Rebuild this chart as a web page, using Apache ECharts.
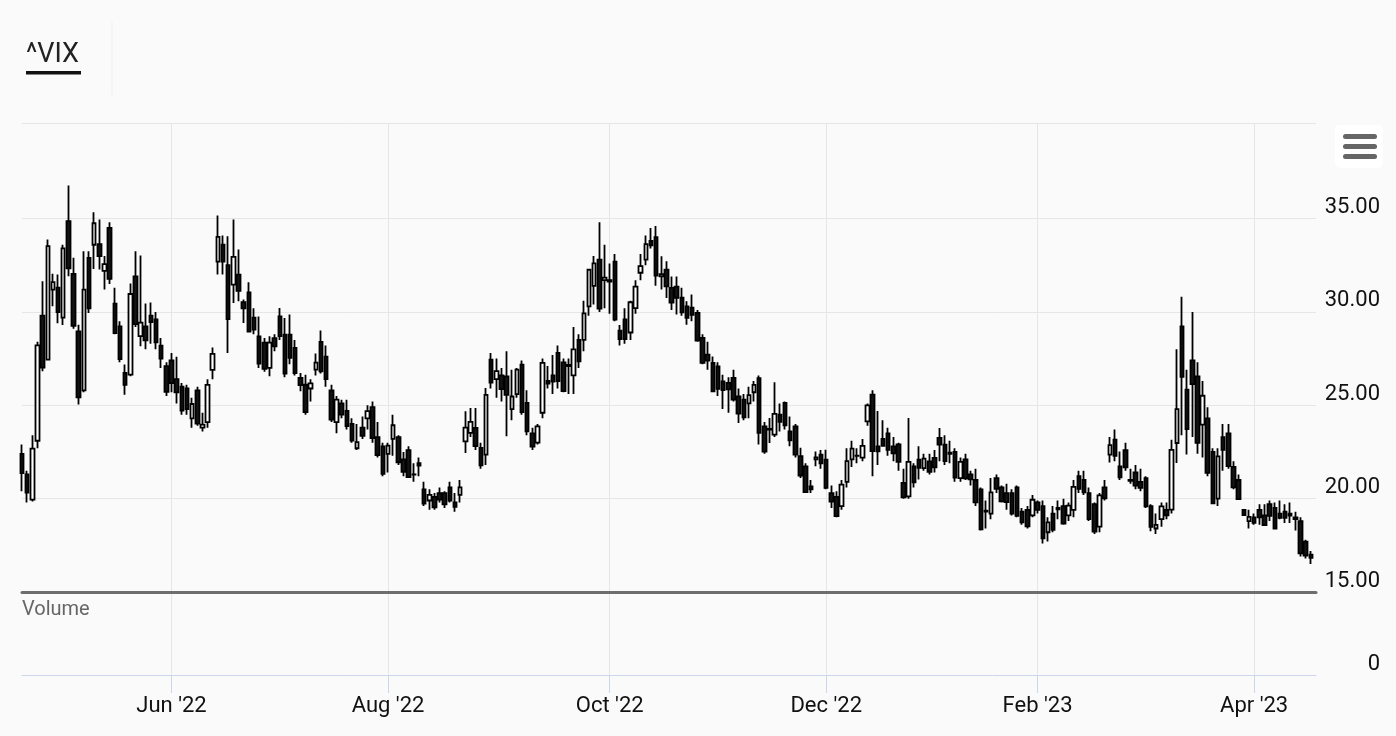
<!DOCTYPE html>
<html><head><meta charset="utf-8">
<script src="https://cdn.jsdelivr.net/npm/echarts@6/dist/echarts.min.js"></script>
<style>html,body{margin:0;padding:0;background:#fafafa}#c{width:1396px;height:736px}</style>
</head><body><div id="c"></div>
<script>
// trading days shown (last category is the empty right edge of the axis)
const dates = [
'2022-04-19','2022-04-20','2022-04-21','2022-04-22','2022-04-25','2022-04-26','2022-04-27','2022-04-28','2022-04-29',
'2022-05-02','2022-05-03','2022-05-04','2022-05-05','2022-05-06','2022-05-09','2022-05-10','2022-05-11','2022-05-12','2022-05-13','2022-05-16','2022-05-17','2022-05-18','2022-05-19','2022-05-20','2022-05-23','2022-05-24','2022-05-25','2022-05-26','2022-05-27','2022-05-31',
'2022-06-01','2022-06-02','2022-06-03','2022-06-06','2022-06-07','2022-06-08','2022-06-09','2022-06-10','2022-06-13','2022-06-14','2022-06-15','2022-06-16','2022-06-17','2022-06-21','2022-06-22','2022-06-23','2022-06-24','2022-06-27','2022-06-28','2022-06-29','2022-06-30',
'2022-07-01','2022-07-05','2022-07-06','2022-07-07','2022-07-08','2022-07-11','2022-07-12','2022-07-13','2022-07-14','2022-07-15','2022-07-18','2022-07-19','2022-07-20','2022-07-21','2022-07-22','2022-07-25','2022-07-26','2022-07-27','2022-07-28','2022-07-29',
'2022-08-01','2022-08-02','2022-08-03','2022-08-04','2022-08-05','2022-08-08','2022-08-09','2022-08-10','2022-08-11','2022-08-12','2022-08-15','2022-08-16','2022-08-17','2022-08-18','2022-08-19','2022-08-22','2022-08-23','2022-08-24','2022-08-25','2022-08-26','2022-08-29','2022-08-30','2022-08-31',
'2022-09-01','2022-09-02','2022-09-06','2022-09-07','2022-09-08','2022-09-09','2022-09-12','2022-09-13','2022-09-14','2022-09-15','2022-09-16','2022-09-19','2022-09-20','2022-09-21','2022-09-22','2022-09-23','2022-09-26','2022-09-27','2022-09-28','2022-09-29','2022-09-30',
'2022-10-03','2022-10-04','2022-10-05','2022-10-06','2022-10-07','2022-10-10','2022-10-11','2022-10-12','2022-10-13','2022-10-14','2022-10-17','2022-10-18','2022-10-19','2022-10-20','2022-10-21','2022-10-24','2022-10-25','2022-10-26','2022-10-27','2022-10-28','2022-10-31',
'2022-11-01','2022-11-02','2022-11-03','2022-11-04','2022-11-07','2022-11-08','2022-11-09','2022-11-10','2022-11-11','2022-11-14','2022-11-15','2022-11-16','2022-11-17','2022-11-18','2022-11-21','2022-11-22','2022-11-23','2022-11-25','2022-11-28','2022-11-29','2022-11-30',
'2022-12-01','2022-12-02','2022-12-05','2022-12-06','2022-12-07','2022-12-08','2022-12-09','2022-12-12','2022-12-13','2022-12-14','2022-12-15','2022-12-16','2022-12-19','2022-12-20','2022-12-21','2022-12-22','2022-12-23','2022-12-27','2022-12-28','2022-12-29','2022-12-30',
'2023-01-03','2023-01-04','2023-01-05','2023-01-06','2023-01-09','2023-01-10','2023-01-11','2023-01-12','2023-01-13','2023-01-17','2023-01-18','2023-01-19','2023-01-20','2023-01-23','2023-01-24','2023-01-25','2023-01-26','2023-01-27','2023-01-30','2023-01-31',
'2023-02-01','2023-02-02','2023-02-03','2023-02-06','2023-02-07','2023-02-08','2023-02-09','2023-02-10','2023-02-13','2023-02-14','2023-02-15','2023-02-16','2023-02-17','2023-02-21','2023-02-22','2023-02-23','2023-02-24','2023-02-27','2023-02-28',
'2023-03-01','2023-03-02','2023-03-03','2023-03-06','2023-03-07','2023-03-08','2023-03-09','2023-03-10','2023-03-13','2023-03-14','2023-03-15','2023-03-16','2023-03-17','2023-03-20','2023-03-21','2023-03-22','2023-03-23','2023-03-24','2023-03-27','2023-03-28','2023-03-29','2023-03-30','2023-03-31',
'2023-04-03','2023-04-04','2023-04-05','2023-04-06','2023-04-10','2023-04-11','2023-04-12','2023-04-13','2023-04-14','2023-04-17','2023-04-18','2023-04-19'
];

// [open, high, low, close] per trading day
const ohlc = [
[22.40,22.90,20.40,21.37],[21.30,21.50,19.80,20.32],[19.95,23.40,19.85,22.68],[23.10,28.40,22.70,28.21],[29.80,31.64,26.82,27.02],[27.45,33.88,27.40,33.52],[31.20,32.05,30.30,31.60],[31.30,32.00,29.40,29.99],[29.70,33.60,29.30,33.40],
[34.86,36.77,31.91,32.34],[32.04,32.90,29.10,29.25],[28.96,29.32,25.04,25.42],[25.80,33.25,25.70,31.20],[32.89,33.25,29.95,30.19],[33.60,35.34,32.30,34.75],[33.63,34.95,32.27,32.99],[32.20,33.00,31.20,32.56],[34.50,34.80,31.50,31.77],[30.45,31.29,28.80,28.87],[29.23,29.50,27.30,27.47],[26.73,27.18,25.57,26.10],[26.64,31.52,26.55,30.96],[31.91,33.25,29.20,29.35],[28.70,33.02,28.16,29.43],[29.23,30.45,28.00,28.48],[29.80,30.50,28.30,29.45],[29.60,30.00,28.00,28.37],[28.20,28.60,27.00,27.50],[27.10,27.30,25.50,25.72],[27.40,27.80,25.70,26.19],
[26.40,27.60,25.10,25.69],[26.00,26.20,24.50,24.72],[25.90,26.10,24.50,24.79],[24.30,25.40,23.80,25.07],[25.80,26.00,23.90,24.02],[23.80,24.60,23.60,23.96],[24.10,26.40,23.80,26.09],[26.90,28.10,26.40,27.75],[32.70,35.16,32.00,34.02],[33.60,34.10,32.00,32.69],[32.50,34.05,27.80,29.62],[31.46,34.95,30.48,32.95],[32.00,33.34,30.57,31.13],[30.52,30.66,29.41,30.19],[31.05,31.59,28.90,28.95],[29.70,30.20,28.80,29.05],[28.69,29.76,27.00,27.23],[28.36,28.60,26.80,26.95],[27.00,28.70,26.55,28.36],[28.60,28.80,27.90,28.16],[29.76,30.21,28.50,28.71],
[28.78,29.68,26.50,26.70],[28.78,29.86,27.20,27.54],[28.07,28.50,26.60,26.73],[26.47,26.73,25.75,26.08],[26.10,26.64,24.50,24.64],[25.90,26.40,25.20,26.17],[26.91,27.77,26.60,27.29],[28.40,29.00,26.70,26.82],[27.60,28.20,26.00,26.40],[25.80,26.10,24.10,24.23],[24.10,25.50,23.50,25.30],[25.10,25.30,24.30,24.50],[24.70,25.30,23.70,23.88],[24.00,24.30,23.00,23.11],[22.70,24.00,22.60,23.03],[23.80,24.40,23.20,23.36],[24.30,25.00,23.70,24.69],[24.90,25.20,23.00,23.24],[23.30,24.10,22.20,22.33],[22.80,23.00,21.20,21.33],
[22.40,23.00,21.40,22.84],[23.20,24.50,22.30,23.93],[23.30,23.40,21.80,21.95],[22.10,22.50,21.20,21.44],[22.60,22.80,21.10,21.15],[21.30,21.90,20.90,21.29],[21.90,22.20,21.20,21.77],[20.50,20.90,19.60,19.74],[19.90,20.50,19.40,20.20],[20.10,20.30,19.40,19.53],[20.30,20.60,19.80,19.95],[20.30,20.40,19.50,19.69],[20.60,20.90,19.80,19.90],[19.80,20.30,19.30,19.56],[20.20,21.00,19.80,20.60],[23.07,24.68,22.45,23.80],[23.52,24.86,23.30,24.11],[23.79,24.86,22.60,22.82],[22.72,23.00,21.60,21.78],[22.36,25.93,21.80,25.56],[27.45,27.80,25.90,26.21],[26.40,27.50,25.40,26.83],[26.60,27.00,25.20,25.87],
[26.55,27.89,23.34,25.56],[24.80,26.90,24.20,25.47],[25.60,27.00,25.40,26.91],[27.18,27.40,24.50,24.64],[25.13,25.80,23.40,23.61],[23.50,23.80,22.60,22.79],[23.00,24.00,22.90,23.87],[24.60,27.50,24.30,27.27],[26.30,27.10,25.90,26.16],[26.60,27.70,25.60,26.27],[27.80,28.20,25.90,26.30],[27.30,27.50,25.70,25.76],[27.10,27.50,25.60,27.16],[26.60,29.20,25.60,27.99],[28.50,28.80,27.00,27.35],[28.50,30.60,27.90,29.92],[30.30,32.30,29.80,32.26],[31.40,33.00,30.40,32.60],[32.80,34.80,30.00,30.18],[31.70,33.60,30.20,31.84],[31.70,32.60,29.90,31.62],
[32.70,33.10,29.50,29.59],[29.00,29.30,28.20,28.55],[29.60,30.20,28.30,28.55],[28.90,30.60,28.50,30.52],[30.20,31.70,29.90,31.36],[32.10,33.10,31.70,32.45],[32.80,34.10,32.50,33.63],[33.80,34.50,33.40,33.57],[34.00,34.60,31.40,31.94],[31.90,32.98,31.20,32.02],[32.27,32.71,30.75,31.37],[31.29,31.90,30.10,30.50],[31.36,31.90,29.86,30.76],[30.76,31.30,29.80,29.98],[30.30,30.57,29.32,29.69],[30.23,30.93,29.50,29.85],[29.95,30.10,28.40,28.46],[28.61,28.80,27.20,27.28],[27.71,28.40,26.90,27.39],[27.27,27.62,25.70,25.75],[27.09,27.30,25.50,25.88],
[26.28,26.64,24.80,25.81],[26.20,26.50,24.60,25.86],[26.47,26.91,25.21,25.30],[25.48,25.90,24.05,24.55],[25.30,25.60,24.20,24.35],[25.10,26.00,24.30,25.54],[25.70,26.30,25.20,26.09],[26.46,26.60,22.90,23.53],[23.87,24.10,22.40,22.52],[23.70,24.32,22.98,23.73],[23.43,26.23,23.30,24.54],[24.50,25.10,23.60,24.11],[25.13,25.21,23.70,23.93],[23.60,24.40,22.80,23.12],[23.87,24.00,22.20,22.36],[22.27,22.72,21.10,21.24],[21.73,21.90,20.30,20.35],[20.66,21.00,20.30,20.50],[22.10,22.53,21.73,22.21],[22.36,22.60,21.60,21.89],[22.09,22.62,20.50,20.58],
[20.30,20.70,19.50,19.84],[20.10,20.40,19.00,19.06],[19.60,21.00,19.40,20.75],[20.90,22.70,20.60,22.01],[22.10,23.10,21.70,22.68],[22.30,22.70,21.90,22.29],[22.20,23.20,22.00,22.83],[24.14,25.10,23.90,25.00],[25.57,25.80,21.20,22.55],[22.80,24.70,21.80,22.54],[23.20,24.20,22.80,22.83],[23.50,23.80,22.30,22.62],[22.80,23.30,22.00,22.42],[22.90,23.00,21.50,21.97],[20.84,21.60,20.00,20.07],[20.12,24.32,20.00,21.97],[21.73,21.90,20.60,20.87],[22.09,22.80,21.02,21.65],[21.64,22.40,21.50,22.14],[22.00,22.40,21.30,21.44],[22.18,22.60,21.40,21.67],
[23.25,23.79,22.00,22.90],[22.89,23.40,21.80,22.01],[22.40,23.10,21.90,22.46],[22.50,22.70,20.90,21.13],[21.10,22.20,20.90,21.97],[22.10,22.40,21.00,21.09],[21.30,21.50,20.70,21.03],[21.00,21.60,19.60,19.80],[20.50,20.60,18.30,18.35],[19.30,19.90,18.40,19.36],[19.20,21.10,18.90,20.34],[21.10,21.30,20.30,20.52],[20.60,20.70,19.80,19.85],[20.30,20.80,19.40,19.81],[20.30,20.50,19.10,19.20],[20.60,20.70,19.00,19.08],[19.30,19.50,18.60,18.73],[19.40,19.60,18.40,18.51],[19.10,20.20,19.00,19.94],[19.80,19.90,19.20,19.40],
[19.60,19.90,17.60,17.87],[18.20,19.00,17.70,18.73],[19.20,19.60,18.20,18.33],[19.50,19.90,18.90,19.43],[19.60,20.00,18.60,18.66],[19.10,19.80,18.80,19.63],[19.40,21.00,19.00,20.63],[21.20,21.50,20.30,20.53],[21.00,21.50,20.20,20.34],[20.30,20.60,18.80,18.91],[19.70,19.80,18.10,18.23],[18.50,20.30,18.20,20.17],[20.60,21.00,19.90,20.02],[22.36,23.30,21.93,22.87],[23.16,23.70,22.00,22.29],[21.73,22.53,21.00,21.14],[22.60,23.00,21.50,21.67],[21.00,21.60,20.80,20.95],[21.40,21.80,20.50,20.70],
[20.90,21.60,20.40,20.58],[21.10,21.20,19.50,19.59],[19.60,19.70,18.25,18.49],[18.40,19.20,18.10,18.60],[18.90,19.80,18.50,19.59],[19.40,19.80,18.90,19.11],[19.41,23.16,19.20,22.61],[22.98,28.00,21.91,24.80],[29.23,30.81,23.40,26.52],[25.84,26.90,22.36,23.73],[27.40,30.00,23.30,26.14],[26.55,27.30,22.40,22.99],[23.96,26.30,22.20,25.51],[24.30,24.90,21.20,21.38],[22.50,22.70,19.70,19.75],[20.00,22.70,19.60,22.26],[23.30,24.00,21.50,22.61],[23.50,24.00,21.60,21.74],[21.70,22.00,20.50,20.60],[21.00,21.30,20.00,19.97],[19.40,19.45,19.10,19.12],[18.80,19.40,18.40,19.02],[19.00,19.20,18.60,18.70],
[19.40,19.70,18.60,19.00],[19.10,19.70,18.60,18.58],[19.70,19.90,18.80,19.08],[19.50,19.80,18.40,18.40],[19.20,19.90,18.90,18.97],[19.30,19.70,18.70,18.97],[19.20,19.80,18.70,19.09],[19.00,19.30,18.30,18.91],[18.80,19.00,16.90,17.07],[17.70,17.80,16.80,16.95],[17.00,17.20,16.50,16.83]
];

const priceTicks = [15, 20, 25, 30, 35];
const xTickDates = ['2022-05-31','2022-08-01','2022-09-30','2022-11-30','2023-01-31','2023-03-31'];
const xTickLabels = ["Jun '22","Aug '22","Oct '22","Dec '22","Feb '23","Apr '23"];
const volumeTicks = [0];

const chart = echarts.init(document.getElementById('c'), null, {renderer: 'canvas'});
const candleData = dates.map((d, i) => {
  const r = ohlc[i];
  return r ? [r[0], r[3], r[2], r[1]] : '-';
});
const tickIdx = new Set(xTickDates.map(d => dates.indexOf(d)));
const labelOf = {};
xTickDates.forEach((d, k) => { labelOf[d] = xTickLabels[k]; });
const showTick = (i) => tickIdx.has(i);
const FONT = 'Roboto, "Helvetica Neue", Arial, sans-serif';

const option = {
  animation: false,
  backgroundColor: '#fafafa',
  grid: [
    {left: 22, width: 1294, top: 123, height: 469},
    {left: 22, width: 1294, top: 592, height: 83}
  ],
  xAxis: [
    {
      type: 'category', gridIndex: 0, data: dates, boundaryGap: false,
      axisLine: {show: true, onZero: false, lineStyle: {color: '#6e6e6e', width: 3}},
      axisTick: {show: false}, axisLabel: {show: false},
      splitLine: {show: true, interval: showTick, lineStyle: {color: '#e6e6e6', width: 1}}
    },
    {
      type: 'category', gridIndex: 1, data: dates, boundaryGap: false,
      axisLine: {show: true, onZero: false, lineStyle: {color: '#ccd6eb', width: 1}},
      axisTick: {show: true, interval: showTick, length: 18, lineStyle: {color: '#ccd6eb', width: 1}},
      axisLabel: {show: true, interval: showTick, formatter: v => labelOf[v] || '', fontSize: 22, color: '#111', fontFamily: FONT, margin: 20},
      splitLine: {show: true, interval: showTick, lineStyle: {color: '#e6e6e6', width: 1}}
    }
  ],
  yAxis: [
    {
      type: 'value', gridIndex: 0, position: 'right', scale: true,
      min: 15, max: 40.12, interval: 5,
      axisLine: {show: false}, axisTick: {show: false},
      axisLabel: {
        show: true, align: 'right', verticalAlign: 'bottom', margin: 64,
        fontSize: 22, color: '#111', fontFamily: FONT,
        formatter: v => priceTicks.indexOf(v) >= 0 ? v.toFixed(2) : ''
      },
      splitLine: {show: true, lineStyle: {color: ['#e6e6e6','#e6e6e6','#e6e6e6','#e6e6e6','#e6e6e6','rgba(0,0,0,0)','#e6e6e6'], width: 1}}
    },
    {
      type: 'value', gridIndex: 1, position: 'right', min: 0, max: 1, interval: 1,
      axisLine: {show: false}, axisTick: {show: false}, splitLine: {show: false},
      axisLabel: {
        show: true, align: 'right', verticalAlign: 'bottom', margin: 64,
        fontSize: 22, color: '#111', fontFamily: FONT,
        formatter: v => volumeTicks.indexOf(v) >= 0 ? String(v) : ''
      }
    }
  ],
  series: [{
    type: 'candlestick', name: '^VIX', xAxisIndex: 0, yAxisIndex: 0,
    data: candleData, barWidth: 4, clip: true,
    itemStyle: {color: '#ffffff', color0: '#141414', borderColor: '#000000', borderColor0: '#000000', borderWidth: 1.8}
  }],
  graphic: [
    {type: 'text', left: 26, top: 42, style: {text: '^VIX', font: '27px ' + FONT, fill: '#222'}},
    {type: 'rect', shape: {x: 26, y: 71, width: 55, height: 3.5}, style: {fill: '#111'}},
    {type: 'line', shape: {x1: 112, y1: 22, x2: 112, y2: 95}, style: {stroke: '#efefef', lineWidth: 1}},
    {type: 'text', left: 22, top: 600, style: {text: 'Volume', font: '20px ' + FONT, fill: '#666'}},
    {type: 'rect', shape: {x: 1335, y: 125, width: 48, height: 43, r: 5}, style: {fill: '#ffffff'}},
    {type: 'rect', shape: {x: 1343, y: 134, width: 34, height: 5, r: 2.5}, style: {fill: '#666'}},
    {type: 'rect', shape: {x: 1343, y: 144, width: 34, height: 5, r: 2.5}, style: {fill: '#666'}},
    {type: 'rect', shape: {x: 1343, y: 154, width: 34, height: 5, r: 2.5}, style: {fill: '#666'}}
  ]
};
chart.setOption(option);
</script>
</body></html>
